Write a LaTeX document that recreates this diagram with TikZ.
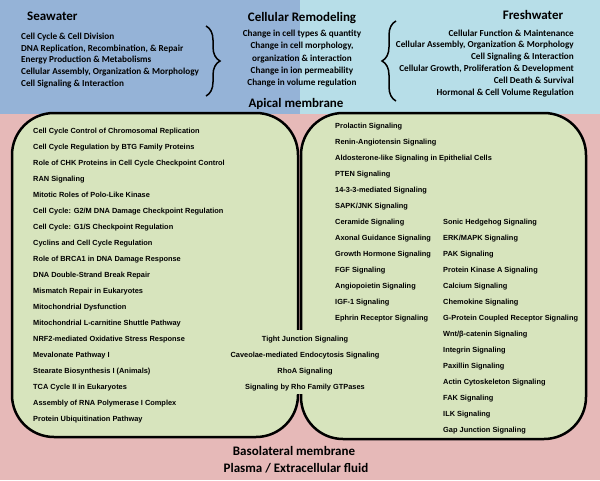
\documentclass[tikz,border=0pt]{standalone}
\usepackage{fontspec}
\setmainfont{Carlito}
\newfontfamily\pwfont{Liberation Sans}
\usepackage{tikz}
\usetikzlibrary{decorations.pathreplacing}
\definecolor{seablue}{HTML}{95B3D7}
\definecolor{freshblue}{HTML}{B7DEE8}
\definecolor{plasmapink}{HTML}{E6B9B8}
\definecolor{cellgreen}{HTML}{D7E4BD}

\tikzset{
    headline/.style={font=\fontsize{13}{15}\selectfont\bfseries, inner sep=0pt},
    itemlist/.style={font=\fontsize{9.2}{11}\selectfont\bfseries, inner sep=0pt},
    pathway/.style={font=\pwfont\fontsize{7.4}{9}\selectfont\bfseries, inner sep=0pt},
    cellbox/.style={fill=cellgreen, draw=black, line width=2.5pt, rounded corners=42pt},
    bracket/.style={decorate, decoration={brace, amplitude=14pt}, line width=1.5pt},
}

\begin{document}
\begin{tikzpicture}[x=1pt, y=-1pt]
    \useasboundingbox (0,0) rectangle (600,480);

    % backgrounds
    \fill[plasmapink] (0,0) rectangle (600,480);
    \fill[seablue] (0,0) rectangle (300,114);
    \fill[freshblue] (300,0) rectangle (600,114);

    % the two cells
    \draw[cellbox] (12,113) rectangle (298,437);
    \draw[cellbox] (301,113) rectangle (586,439);
    \fill[cellgreen] (290,330) rectangle (310,394);

    % seawater
    \node[headline, anchor=base west] (sea) at (27,20.5) {Seawater};
    \foreach \t [count=\i from 0] in {{Cell Cycle \& Cell Division},
        {DNA Replication, Recombination, \& Repair},
        {Energy Production \& Metabolisms},
        {Cellular Assembly, Organization \& Morphology},
        {Cell Signaling \& Interaction}}
        \node[itemlist, anchor=base west] (sea\i) at (21,39.2+11.8*\i) {\t};
    \draw[bracket] (206,26) -- (206,96);

    % remodeling
    \node[headline, anchor=base] (remod) at (302,21.5) {Cellular Remodeling};
    \foreach \t [count=\i from 0] in {{Change in cell types \& quantity},
        {Change in cell morphology,},
        {organization \& interaction},
        {Change in ion permeability},
        {Change in volume regulation}}
        \node[itemlist, anchor=base] (remod\i) at (302,36.2+12.4*\i) {\t};
    \node[headline, anchor=base] (apical) at (296,107.5) {Apical membrane};

    % freshwater
    \node[headline, anchor=base] (fresh) at (533,19.5) {Freshwater};
    \foreach \t [count=\i from 0] in {{Cellular Function \& Maintenance},
        {Cellular Assembly, Organization \& Morphology},
        {Cell Signaling \& Interaction},
        {Cellular Growth, Proliferation \& Development},
        {Cell Death \& Survival},
        {Hormonal \& Cell Volume Regulation}}
        \node[itemlist, anchor=base east] (fresh\i) at (574,36+11.8*\i) {\t};
    \draw[bracket] (396,101) -- (396,21);

    % seawater pathways
    \foreach \t [count=\i from 0] in {{Cell Cycle Control of Chromosomal Replication},
        {Cell Cycle Regulation by BTG Family Proteins},
        {Role of CHK Proteins in Cell Cycle Checkpoint Control},
        {RAN Signaling},
        {Mitotic Roles of Polo-Like Kinase},
        {Cell Cycle: G2/M DNA Damage Checkpoint Regulation},
        {Cell Cycle: G1/S Checkpoint Regulation},
        {Cyclins and Cell Cycle Regulation},
        {Role of BRCA1 in DNA Damage Response},
        {DNA Double-Strand Break Repair},
        {Mismatch Repair in Eukaryotes},
        {Mitochondrial Dysfunction},
        {Mitochondrial L-carnitine Shuttle Pathway},
        {NRF2-mediated Oxidative Stress Response},
        {Mevalonate Pathway I},
        {Stearate Biosynthesis I (Animals)},
        {TCA Cycle II in Eukaryotes},
        {Assembly of RNA Polymerase I Complex},
        {Protein Ubiquitination Pathway}}
        \node[pathway, anchor=base west] (sp\i) at (33,133.5+16*\i) {\t};

    % shared pathways
    \foreach \t [count=\i from 0] in {{Tight Junction Signaling},
        {Caveolae-mediated Endocytosis Signaling},
        {RhoA Signaling},
        {Signaling by Rho Family GTPases}}
        \node[pathway, anchor=base] (bp\i) at (305,341.5+16*\i) {\t};

    % freshwater pathways
    \foreach \t [count=\i from 0] in {{Prolactin Signaling},
        {Renin-Angiotensin Signaling},
        {Aldosterone-like Signaling in Epithelial Cells},
        {PTEN Signaling},
        {14-3-3-mediated Signaling},
        {SAPK/JNK Signaling},
        {Ceramide Signaling},
        {Axonal Guidance Signaling},
        {Growth Hormone Signaling},
        {FGF Signaling},
        {Angiopoietin Signaling},
        {IGF-1 Signaling},
        {Ephrin Receptor Signaling}}
        \node[pathway, anchor=base west] (fp\i) at (335,128.5+16*\i) {\t};
    \foreach \t [count=\i from 0] in {{Sonic Hedgehog Signaling},
        {ERK/MAPK Signaling},
        {PAK Signaling},
        {Protein Kinase A Signaling},
        {Calcium Signaling},
        {Chemokine Signaling},
        {G-Protein Coupled Receptor Signaling},
        {Wnt/β-catenin Signaling},
        {Integrin Signaling},
        {Paxillin Signaling},
        {Actin Cytoskeleton Signaling},
        {FAK Signaling},
        {ILK Signaling},
        {Gap Junction Signaling}}
        \node[pathway, anchor=base west] (fq\i) at (443,224.5+16*\i) {\t};

    % basolateral side
    \node[headline, anchor=base] (baso) at (294,455.5) {Basolateral membrane};
    \node[headline, anchor=base] (plasma) at (296,472.5) {Plasma / Extracellular fluid};
\end{tikzpicture}
\end{document}
